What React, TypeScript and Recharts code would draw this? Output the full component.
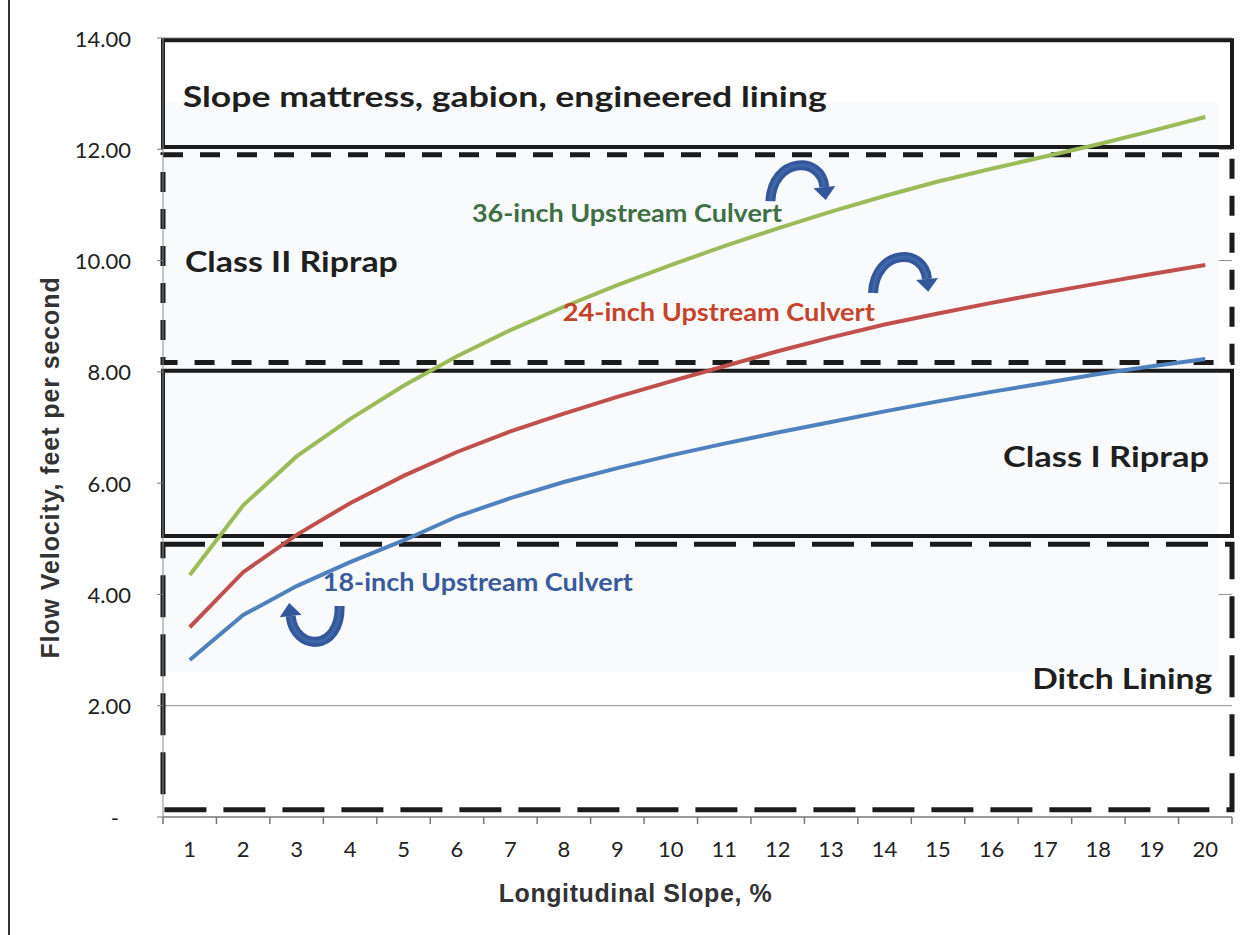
import React from 'react';
import {
  ComposedChart,
  Line,
  XAxis,
  YAxis,
  CartesianGrid,
  ReferenceArea,
  ReferenceDot,
  Label,
} from 'recharts';

// longitudinal slope, % (category positions on the x axis)
const slopes = [1, 2, 3, 4, 5, 6, 7, 8, 9, 10, 11, 12, 13, 14, 15, 16, 17, 18, 19, 20];

// flow velocity, ft/s
const culvert18 = [2.82, 3.63, 4.15, 4.58, 4.97, 5.4, 5.73, 6.02, 6.27, 6.5, 6.71, 6.91, 7.1, 7.29, 7.47, 7.64, 7.8, 7.96, 8.1, 8.23];
const culvert24 = [3.41, 4.4, 5.07, 5.64, 6.13, 6.56, 6.93, 7.25, 7.55, 7.83, 8.1, 8.37, 8.62, 8.85, 9.05, 9.24, 9.42, 9.59, 9.76, 9.92];
const culvert36 = [4.35, 5.6, 6.48, 7.15, 7.75, 8.28, 8.75, 9.17, 9.56, 9.92, 10.26, 10.58, 10.88, 11.16, 11.42, 11.65, 11.87, 12.09, 12.33, 12.58];

const yTicks = [0, 2, 4, 6, 8, 10, 12, 14];

// lining zones (velocity bands)
const zoneNames = ['Slope mattress, gabion, engineered lining', 'Class II Riprap', 'Class I Riprap', 'Ditch Lining'];
const zoneTop = [13.96, 11.9, 8.02, 4.9];
const zoneBottom = [12.04, 8.17, 5.05, 0.13];
const zoneDashed = [false, true, false, true];

const seriesNames = ['36-inch Upstream Culvert', '24-inch Upstream Culvert', '18-inch Upstream Culvert'];

const data = slopes.map((s, i) => ({
  slope: s,
  c18: culvert18[i],
  c24: culvert24[i],
  c36: culvert36[i],
}));

// ticks on category boundaries plus the label positions
const xAxisTicks = [slopes[0] - 0.5, ...slopes.flatMap((s) => [s, s + 0.5])];

const TICK_FONT = 'Lato, "Open Sans", sans-serif';
const TITLE_FONT = '"Liberation Sans", Arial, sans-serif';

// where the text/arrow annotations sit, in data units (w = rendered text width)
const zoneLabelPos = [
  { x: 0.87, y: 12.96, anchor: 'start', w: 644 },
  { x: 0.91, y: 10.0, anchor: 'start', w: 213 },
  { x: 20.07, y: 6.5, anchor: 'end', w: 206 },
  { x: 20.13, y: 2.5, anchor: 'end', w: 180 },
];
const seriesLabelPos = [
  { x: 6.28, y: 10.87, color: '#3e6f45', w: 310 },
  { x: 7.98, y: 9.08, color: '#c5432b', w: 312 },
  { x: 3.49, y: 4.24, color: '#3a5b9b', w: 310 },
];

function XTick(props: any) {
  const { x, y, payload } = props;
  const v = payload.value;
  if (Number.isInteger(v)) {
    return (
      <text x={x} y={y + 40} textAnchor="middle" fontSize={22} fill="#222" fontFamily={TICK_FONT}>
        {v}
      </text>
    );
  }
  return <line x1={x} x2={x} y1={y} y2={y + 7} stroke="#777" strokeWidth={1.5} />;
}

function YTick(props: any) {
  const { x, y, payload } = props;
  const v = payload.value;
  return (
    <text
      x={v === 0 ? x - 12 : x}
      y={y}
      textAnchor="end"
      dominantBaseline="central"
      fontSize={22}
      fill="#222"
      fontFamily={TICK_FONT}
    >
      {v === 0 ? '-' : v.toFixed(2)}
    </text>
  );
}

function textShape(text: string, color: string, size: number, anchor: string, width: number) {
  return (p: any) => (
    <text
      x={p.cx}
      y={p.cy}
      textAnchor={anchor}
      dominantBaseline="central"
      fontSize={size}
      fontWeight="bold"
      fill={color}
      fontFamily={TICK_FONT}
      textLength={width}
      lengthAdjust="spacingAndGlyphs"
    >
      {text}
    </text>
  );
}

// curved blue arrow: cubic body, triangular head at start or end
function arrowShape(pts: number[][], headAtStart: boolean) {
  return (p: any) => {
    const [p0, c1, c2, p3] = pts;
    const base = headAtStart ? p0 : p3;
    const from = headAtStart ? c1 : c2;
    let dx = base[0] - from[0];
    let dy = base[1] - from[1];
    const len = Math.hypot(dx, dy);
    dx /= len;
    dy /= len;
    const hl = 13;
    const hw = 11;
    const tip = [base[0] + dx * hl, base[1] + dy * hl];
    const l = [base[0] - dy * hw, base[1] + dx * hw];
    const r = [base[0] + dy * hw, base[1] - dx * hw];
    const d = `M${p0[0]},${p0[1]} C${c1[0]},${c1[1]} ${c2[0]},${c2[1]} ${p3[0]},${p3[1]}`;
    return (
      <g transform={`translate(${p.cx},${p.cy})`}>
        <path d={d} fill="none" stroke="#33579a" strokeWidth={10} />
        <path d={d} fill="none" stroke="#4a72b5" strokeWidth={3} opacity={0.6} />
        <polygon points={`${tip[0]},${tip[1]} ${l[0]},${l[1]} ${r[0]},${r[1]}`} fill="#33579a" />
      </g>
    );
  };
}

const overArrow = [
  [-34, 24],
  [-32, -20],
  [17, -22],
  [20, 10],
];
const uArrow = [
  [-6, 16],
  [-2, 52],
  [44, 52],
  [43, 6],
];

export default function App() {
  return (
    <div style={{ position: 'absolute', left: 0, top: 0, width: 1257, height: 935, background: '#fff' }}>
      <div style={{ position: 'absolute', left: 8, top: 0, width: 2, height: 935, background: '#333' }} />
      <ComposedChart
        width={1257}
        height={935}
        data={data}
        margin={{ top: 38, right: 25, bottom: 28, left: 63 }}
      >
        <ReferenceArea x1={0.5} x2={20.25} y1={2.6} y2={12.85} fill="#f9fafc" fillOpacity={1} stroke="none" />
        <CartesianGrid horizontal vertical={false} stroke="#8c8c8c" strokeWidth={1} />
        <XAxis
          dataKey="slope"
          type="number"
          domain={[0.5, 20.5]}
          ticks={xAxisTicks}
          interval={0}
          tickSize={0}
          tickMargin={0}
          tickLine={false}
          tick={<XTick />}
          axisLine={{ stroke: '#8a8a8a', strokeWidth: 1.5 }}
          height={90}
        >
          <Label
            content={(p: any) => (
              <text
                x={p.viewBox.x + p.viewBox.width / 2 - 62}
                y={902}
                textAnchor="middle"
                fontSize={25}
                fontWeight="bold"
                letterSpacing={0.6}
                fill="#333"
                fontFamily={TITLE_FONT}
              >
                Longitudinal Slope, %
              </text>
            )}
          />
        </XAxis>
        <YAxis
          type="number"
          domain={[0, 14]}
          ticks={yTicks}
          interval={0}
          width={100}
          tickSize={6}
          tickMargin={26}
          tick={<YTick />}
          tickLine={{ stroke: '#777' }}
          axisLine={{ stroke: '#8a8a8a' }}
        >
          <Label
            content={(p: any) => (
              <text
                transform={`translate(${p.viewBox.x - 13},${p.viewBox.y + p.viewBox.height / 2 + 40}) rotate(-90)`}
                textAnchor="middle"
                dominantBaseline="central"
                fontSize={25}
                fontWeight="bold"
                letterSpacing={0.9}
                fill="#333"
                fontFamily={TITLE_FONT}
              >
                Flow Velocity, feet per second
              </text>
            )}
          />
        </YAxis>

        {zoneNames.map((name, i) => (
          <ReferenceArea
            key={name}
            y1={zoneBottom[i]}
            y2={zoneTop[i]}
            fill="none"
            stroke="#1b1b1b"
            strokeWidth={zoneDashed[i] ? 5 : 4}
            strokeDasharray={zoneDashed[i] ? (i === 3 ? '42 17' : '20 17') : undefined}
          />
        ))}

        <Line type="linear" dataKey="c36" stroke="#9bbb59" strokeWidth={4} dot={false} isAnimationActive={false} />
        <Line type="linear" dataKey="c24" stroke="#c0504d" strokeWidth={4} dot={false} isAnimationActive={false} />
        <Line type="linear" dataKey="c18" stroke="#4f81bd" strokeWidth={4} dot={false} isAnimationActive={false} />

        {zoneNames.map((name, i) => (
          <ReferenceDot
            key={`zl-${name}`}
            x={zoneLabelPos[i].x}
            y={zoneLabelPos[i].y}
            r={0}
            shape={textShape(name, '#1f1f1f', 29, zoneLabelPos[i].anchor, zoneLabelPos[i].w)}
          />
        ))}
        {seriesNames.map((name, i) => (
          <ReferenceDot
            key={`sl-${name}`}
            x={seriesLabelPos[i].x}
            y={seriesLabelPos[i].y}
            r={0}
            shape={textShape(name, seriesLabelPos[i].color, 24, 'start', seriesLabelPos[i].w)}
          />
        ))}
        <ReferenceDot x={12.5} y={11.5} r={0} shape={arrowShape(overArrow, false)} />
        <ReferenceDot x={14.42} y={9.85} r={0} shape={arrowShape(overArrow, false)} />
        <ReferenceDot x={3.0} y={3.9} r={0} shape={arrowShape(uArrow, true)} />
      </ComposedChart>
    </div>
  );
}
